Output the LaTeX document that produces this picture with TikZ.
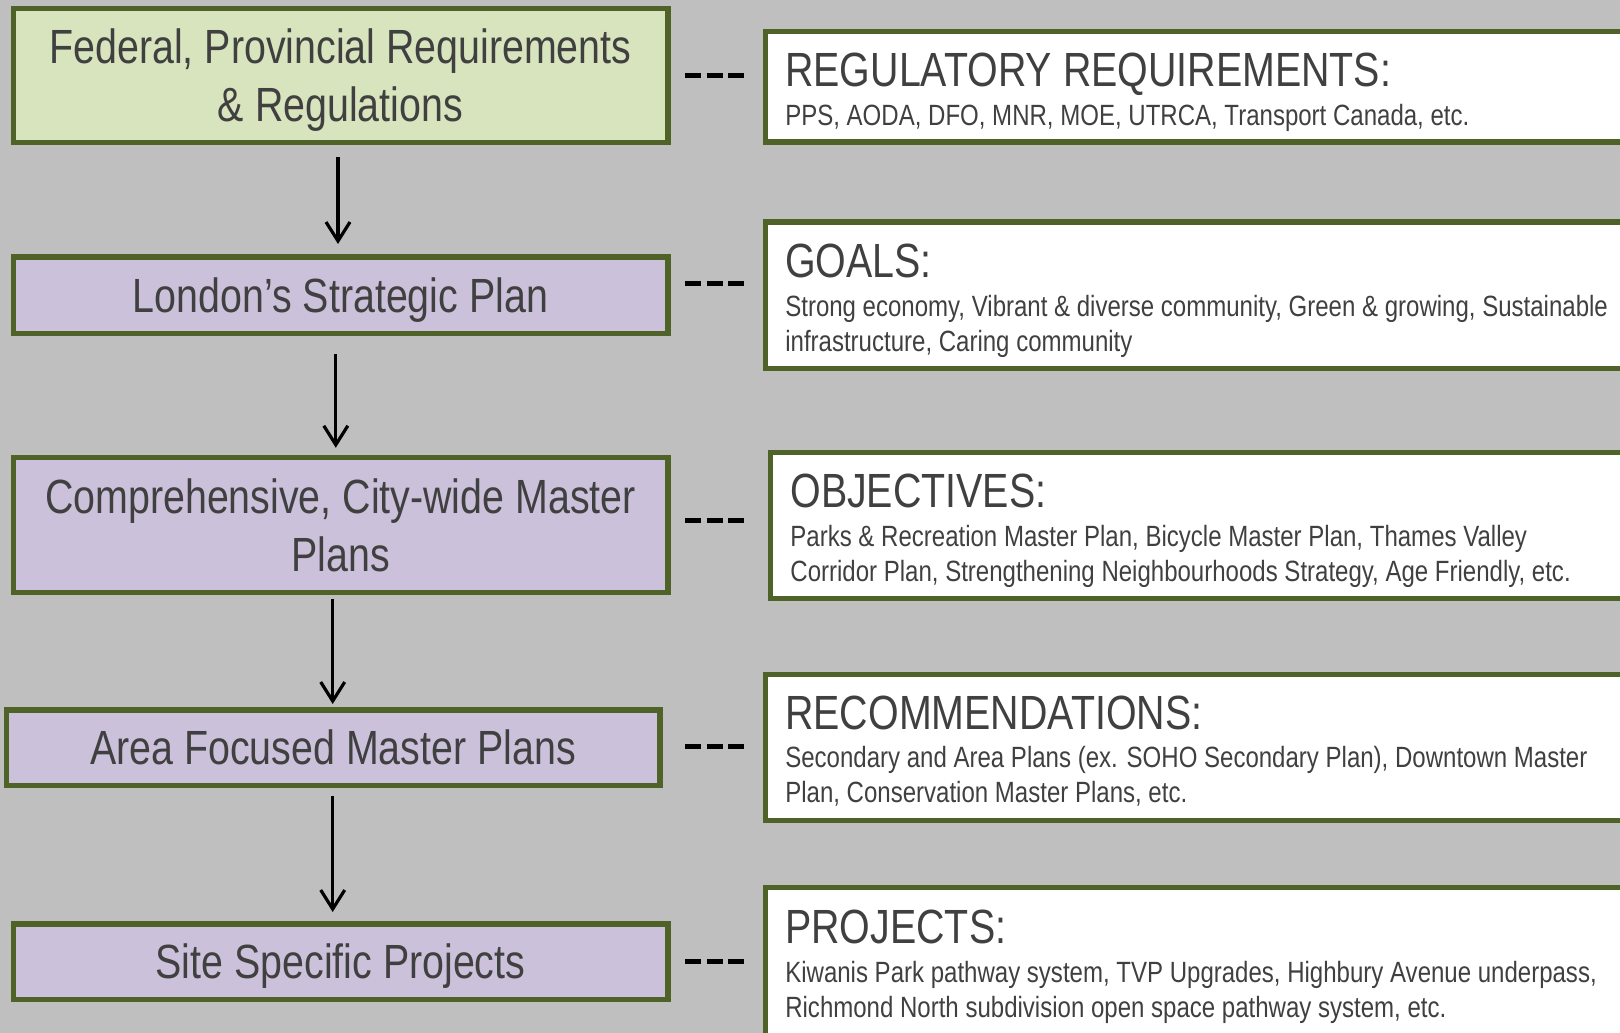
\documentclass[tikz,border=0pt]{standalone}
\usepackage{fontspec}
\setmainfont{Liberation Sans}[FakeStretch=0.82]
\usetikzlibrary{arrows.meta}
\definecolor{bgcol}{HTML}{BFBFBF}
\definecolor{olivecol}{HTML}{4F6228}
\definecolor{lgreen}{HTML}{D7E4BD}
\definecolor{lpurple}{HTML}{CCC1DA}
\definecolor{txtcol}{HTML}{404040}
\tikzset{
  lbox/.style={draw=olivecol, line width=5.5pt, text=txtcol, font=\fontsize{48}{58}\selectfont, align=center, minimum width=654.5pt, inner sep=0pt, text depth=0pt},
  rbox/.style={draw=olivecol, line width=5.5pt, fill=white, anchor=north west, minimum width=1000pt, inner sep=0pt},
  headtxt/.style={text=txtcol, font=\fontsize{48}{58}\selectfont, anchor=base west, inner sep=0pt},
  bodytxt/.style={text=txtcol, font=\fontsize{29.3}{35}\selectfont, align=left, anchor=north west, inner sep=0pt},
  arr/.style={line width=3.2pt, -{Straight Barb[length=19pt, width=24pt, line width=3.2pt]}},
  dashlink/.style={line width=5pt, dash pattern=on 16pt off 5.5pt},
}
\begin{document}
\begin{tikzpicture}[x=1pt, y=-1pt]
\fill[bgcol] (0,0) rectangle (1620,1033);
\useasboundingbox (0,0) rectangle (1620,1033);
\clip (0,0) rectangle (1620,1033);

% left column
\node[lbox, fill=lgreen, minimum height=133.5pt] (L1) at (340.5,75.5) {Federal, Provincial Requirements\\\& Regulations};
\node[lbox, fill=lpurple, minimum height=76.5pt] (L2) at (340.5,295) {London’s Strategic Plan};
\node[lbox, fill=lpurple, minimum height=135pt] (L3) at (340.5,525) {Comprehensive, City-wide Master\\Plans};
\node[lbox, fill=lpurple, minimum height=75.5pt, minimum width=653.5pt] (L4) at (333,747.5) {Area Focused Master Plans};
\node[lbox, fill=lpurple, minimum height=75.5pt] (L5) at (340.5,961.5) {Site Specific Projects};

% arrows
\draw[arr, shorten <=12pt, shorten >=10pt] ([xshift=-2.5pt]L1.south) -- ([xshift=-2.5pt]L1.south |- L2.north);
\draw[arr, shorten <=18pt, shorten >=7pt] ([xshift=-4.7pt]L2.south) -- ([xshift=-4.7pt]L2.south |- L3.north);
\draw[arr, shorten <=4pt, shorten >=3pt] ([xshift=-7.8pt]L3.south) -- ([xshift=-7.8pt]L3.south |- L4.north);
\draw[arr, shorten <=8pt, shorten >=9pt] ([xshift=-0.3pt]L4.south) -- ([xshift=-0.3pt]L4.south |- L5.north);

% right column
\node[rbox, minimum height=110pt] (R1) at (762.6,29) {};
\node[rbox, minimum height=146.5pt] (R2) at (762.6,219) {};
\node[rbox, minimum height=146.3pt] (R3) at (767.7,449.5) {};
\node[rbox, minimum height=146.3pt] (R4) at (762.6,671.6) {};
\node[rbox, minimum height=170pt] (R5) at (762.6,884.5) {};

\path (R1.north west) ++(22.5,57) node[headtxt] (R1h) {REGULATORY REQUIREMENTS:};
\path (R1h.base west) ++(0,9) node[bodytxt] (R1b) {\rule{0pt}{30pt}PPS, AODA, DFO, MNR, MOE, UTRCA, Transport Canada, etc.};

\path (R2.north west) ++(22.5,58) node[headtxt] (R2h) {GOALS:};
\path (R2h.base west) ++(0,9) node[bodytxt] (R2b) {\rule{0pt}{30pt}Strong economy, Vibrant \& diverse community, Green \& growing, Sustainable\\infrastructure, Caring community};

\path (R3.north west) ++(22.5,58) node[headtxt] (R3h) {OBJECTIVES:};
\path (R3h.base west) ++(0,8.5) node[bodytxt] (R3b) {\rule{0pt}{30pt}Parks \& Recreation Master Plan, Bicycle Master Plan, Thames Valley\\Corridor Plan, Strengthening Neighbourhoods Strategy, Age Friendly, etc.};

\path (R4.north west) ++(22.5,58) node[headtxt] (R4h) {RECOMMENDATIONS:};
\path (R4h.base west) ++(0,8) node[bodytxt] (R4b) {\rule{0pt}{30pt}Secondary and Area Plans (ex. SOHO Secondary Plan), Downtown Master\\Plan, Conservation Master Plans, etc.};

\path (R5.north west) ++(22.5,59) node[headtxt] (R5h) {PROJECTS:};
\path (R5h.base west) ++(0,9) node[bodytxt] (R5b) {\rule{0pt}{30pt}Kiwanis Park pathway system, TVP Upgrades, Highbury Avenue underpass,\\Richmond North subdivision open space pathway system, etc.};

% dashed links
\draw[dashlink, shorten <=14.5pt, shorten >=18.6pt] (L1.east) -- (L1.east -| R1.west);
\draw[dashlink, shorten <=14.5pt, shorten >=18.6pt] ([yshift=12pt]L2.east) -- ([yshift=12pt]L2.east -| R2.west);
\draw[dashlink, shorten <=14.5pt, shorten >=23.7pt] ([yshift=5pt]L3.east) -- ([yshift=5pt]L3.east -| R3.west);
\draw[dashlink, shorten <=22.5pt, shorten >=18.6pt] ([yshift=1.5pt]L4.east) -- ([yshift=1.5pt]L4.east -| R4.west);
\draw[dashlink, shorten <=14.5pt, shorten >=18.6pt] (L5.east) -- (L5.east -| R5.west);
\end{tikzpicture}
\end{document}
